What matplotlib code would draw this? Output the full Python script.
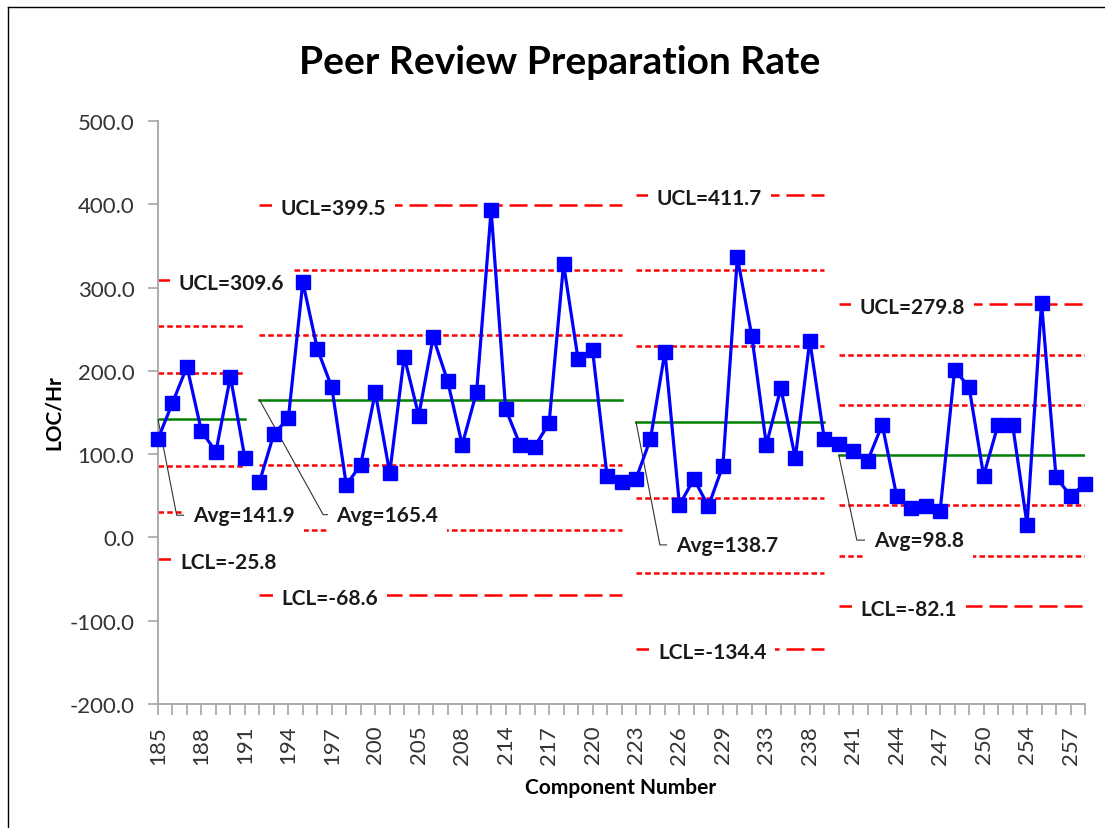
import matplotlib
matplotlib.use('Agg')
import matplotlib.pyplot as plt

# ---------------- data ----------------
values = [118.3, 161.5, 205.1, 127.5, 103.0, 193.1, 95.1,
          66.3, 124.3, 143.1, 306.4, 226.3, 180.3, 63.0, 87.4, 174.3, 77.4,
          217.1, 146.2, 240.3, 187.5, 111.1, 175.1, 393.2, 154.3, 111.1, 109.0,
          137.1, 328.4, 214.3, 225.1, 74.2, 66.3,
          70.2, 118.3, 223.1, 39.0, 70.2, 37.4, 86.2, 336.4, 241.5, 111.1,
          179.1, 95.4, 236.3, 118.3,
          112.3, 104.2, 92.2, 135.4, 49.5, 35.4, 38.2, 32.2, 201.5, 180.3,
          74.2, 135.4, 135.4, 15.4, 281.5, 72.3, 50.2, 64.2]
tick_labels = ['185', '188', '191', '194', '197', '200', '205', '208', '214',
               '217', '220', '223', '226', '229', '233', '238', '241', '244',
               '247', '250', '254', '257']
seg_start = [0, 7, 33, 47]
seg_end = [6, 32, 46, 64]
ucl = [309.6, 399.5, 411.7, 279.8]
avg = [141.9, 165.4, 138.7, 98.8]
lcl = [-25.8, -68.6, -134.4, -82.1]

# ---------------- style ----------------
plt.rcParams['font.family'] = ['Lato', 'DejaVu Sans']
plt.rcParams['lines.scale_dashes'] = False
W, H = 1105, 829
fig = plt.figure(figsize=(W / 100, H / 100), dpi=100)
ax = fig.add_axes([158 / W, 1 - 705 / H, 927 / W, 583 / H])
ax.set_xlim(0, len(values) - 1)
ax.set_ylim(-200, 500)

axis_col = '#a6a6a6'
for s in ['top', 'right']:
    ax.spines[s].set_visible(False)
for s in ['left', 'bottom']:
    ax.spines[s].set_color(axis_col)
    ax.spines[s].set_linewidth(1.3)

yt = list(range(-200, 501, 100))
ax.set_yticks(yt)
ax.set_yticklabels([f'{v:.1f}' for v in yt], fontsize=16, color='#333333')
xt = list(range(len(values)))
ax.set_xticks(xt)
lab = [''] * len(values)
for i, t in enumerate(tick_labels):
    lab[i * 3] = t
ax.set_xticklabels(lab, rotation=90, fontsize=16, color='#333333')
ax.tick_params(axis='y', direction='out', length=7, width=1.2, color=axis_col, pad=10)
ax.tick_params(axis='x', direction='out', length=8, width=1.2, color=axis_col, pad=7)

short = (0, (4, 2.3))
long_ = (0, (13, 5))
red = '#ff0000'

avg_off = [(35, -96), (77, -115), (40, -123), (35, -85)]
avg_ang = [-79, -61, -79, -78]

for k in range(4):
    s, e = seg_start[k], seg_end[k]
    sig = (ucl[k] - avg[k]) / 3.0
    xs = [s, e]
    for m in (1, 2):
        for sgn in (1, -1):
            ax.plot(xs, [avg[k] + sgn * m * sig] * 2, color=red, lw=1.8,
                    linestyle=short, zorder=2, solid_capstyle='butt')
    ax.plot(xs, [ucl[k]] * 2, color=red, lw=1.8, linestyle=long_, zorder=2)
    ax.plot(xs, [lcl[k]] * 2, color=red, lw=1.8, linestyle=long_, zorder=2)
    ax.plot(xs, [avg[k]] * 2, color='#008000', lw=1.8, zorder=2)
    # data
    ax.plot(range(s, e + 1), values[s:e + 1], color='#0000ff', lw=2.3,
            marker='s', markersize=9.5, markeredgecolor='#0000ff', zorder=5,
            clip_on=False)
    box = dict(boxstyle='square,pad=0.42', fc='white', ec='none')
    ax.annotate(f'UCL={ucl[k]}', xy=(s, ucl[k]), xytext=(21, -3),
                textcoords='offset pixels', ha='left', va='center',
                fontsize=15, fontweight='bold', color='#1a1a1a', bbox=box, zorder=3)
    ax.annotate(f'LCL={lcl[k]}', xy=(s, lcl[k]), xytext=(22, -3),
                textcoords='offset pixels', ha='left', va='center',
                fontsize=15, fontweight='bold', color='#1a1a1a', bbox=box, zorder=3)
    ax.annotate(f'Avg={avg[k]}', xy=(s, avg[k]), xytext=avg_off[k],
                textcoords='offset pixels', ha='left', va='center',
                fontsize=15, fontweight='bold', color='#1a1a1a', bbox=box, zorder=3,
                arrowprops=dict(arrowstyle='-', color='#333333', lw=0.8,
                                relpos=(0, 0.5), shrinkA=0, shrinkB=0,
                                connectionstyle=f'angle,angleA=0,angleB={avg_ang[k]},rad=0'))

fig.text(560 / W, 1 - 62 / H, 'Peer Review Preparation Rate', ha='center', va='center',
         fontsize=28, fontweight='bold', color='black')
fig.text(621 / W, 1 - 788 / H, 'Component Number', ha='center', va='center',
         fontsize=15, fontweight='bold', color='black')
fig.text(54 / W, 1 - 413 / H, 'LOC/Hr', ha='center', va='center', rotation=90,
         fontsize=15, fontweight='bold', color='black')

# chart border (left and top)
fig.add_artist(plt.Line2D([8 / W, 8 / W], [0, 1 - 8 / H], color='black', lw=1))
fig.add_artist(plt.Line2D([8 / W, 1], [1 - 8 / H, 1 - 8 / H], color='black', lw=1))

fig.savefig('out.png', dpi=100)
